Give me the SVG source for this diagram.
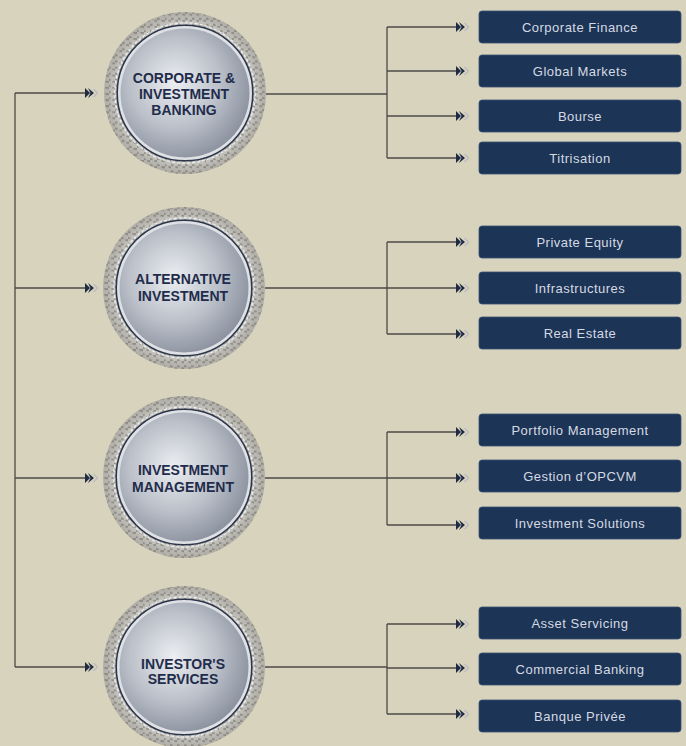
<svg xmlns="http://www.w3.org/2000/svg" width="686" height="746" viewBox="0 0 686 746">
<style>
.bg{fill:#d8d3bc}
.ln{fill:none;stroke:#4b4a48;stroke-width:1.3}
.box{fill:#1c3456;stroke:#3b5273;stroke-width:0.8}
.bt{font-family:"Liberation Sans",Arial,sans-serif;font-size:13px;fill:#d5dae2;text-anchor:middle;letter-spacing:0.5px}
.ct{font-family:"Liberation Sans",Arial,sans-serif;font-size:14px;font-weight:bold;fill:#1f2c4b;text-anchor:middle}
</style>
<defs>
<marker id="chev" viewBox="0 0 13 11" refX="0" refY="5.5" markerWidth="13" markerHeight="11" markerUnits="userSpaceOnUse" orient="auto">
<path d="M8.5,1.5 L12.5,5.5 L8.5,9.5" fill="none" stroke="#b9bcc4" stroke-width="1.3"/>
<path d="M0,0.5 L5,5.5 L0,10.5 Z" fill="#1f2a44"/>
<path d="M3,0.5 L9,5.5 L3,10.5 L5.5,5.5 Z" fill="#1f2a44"/>
</marker>
<pattern id="dimple" patternUnits="userSpaceOnUse" width="7" height="6.1">
<rect width="7" height="6.1" fill="#a5a29a"/>
<circle cx="1.75" cy="1.5" r="2.7" fill="#d7d5cf"/>
<circle cx="5.25" cy="4.55" r="2.7" fill="#d7d5cf"/>
</pattern>
<radialGradient id="silver" cx="0.42" cy="0.42" r="0.62">
<stop offset="0" stop-color="#eceef1"/>
<stop offset="0.55" stop-color="#bcc1ca"/>
<stop offset="1" stop-color="#8a919e"/>
</radialGradient>
<radialGradient id="ringshade" cx="0.5" cy="0.5" r="0.5">
<stop offset="0.82" stop-color="#000" stop-opacity="0"/>
<stop offset="1" stop-color="#5a564e" stop-opacity="0.3"/>
</radialGradient>
<g id="disc">
<circle r="81" fill="url(#dimple)"/>
<circle r="81" fill="url(#ringshade)"/>
<circle r="70.2" fill="none" stroke="#eef0f2" stroke-width="1.2" stroke-dasharray="3 2"/>
<circle r="67.8" fill="#dfe1e5" stroke="#2c374c" stroke-width="1.6"/>
<circle r="64.5" fill="url(#silver)"/>
</g>
</defs>
<rect class="bg" width="686" height="746"/>

<g id="connectors">
<path class="ln" d="M15,93 V667"/>
<path class="ln" d="M15,93 H85" marker-end="url(#chev)"/>
<path class="ln" d="M15,288 H85" marker-end="url(#chev)"/>
<path class="ln" d="M15,478 H85" marker-end="url(#chev)"/>
<path class="ln" d="M15,667 H85" marker-end="url(#chev)"/>

<path class="ln" d="M265,94 H387"/>
<path class="ln" d="M387,27 V158"/>
<path class="ln" d="M387,27 H456" marker-end="url(#chev)"/>
<path class="ln" d="M387,71 H456" marker-end="url(#chev)"/>
<path class="ln" d="M387,116 H456" marker-end="url(#chev)"/>
<path class="ln" d="M387,158 H456" marker-end="url(#chev)"/>

<path class="ln" d="M265,288 H387"/>
<path class="ln" d="M387,242 V334"/>
<path class="ln" d="M387,242 H456" marker-end="url(#chev)"/>
<path class="ln" d="M387,288 H456" marker-end="url(#chev)"/>
<path class="ln" d="M387,334 H456" marker-end="url(#chev)"/>

<path class="ln" d="M265,478 H387"/>
<path class="ln" d="M387,432 V525"/>
<path class="ln" d="M387,432 H456" marker-end="url(#chev)"/>
<path class="ln" d="M387,478 H456" marker-end="url(#chev)"/>
<path class="ln" d="M387,525 H456" marker-end="url(#chev)"/>

<path class="ln" d="M265,667 H387"/>
<path class="ln" d="M387,624 V714"/>
<path class="ln" d="M387,624 H456" marker-end="url(#chev)"/>
<path class="ln" d="M387,668 H456" marker-end="url(#chev)"/>
<path class="ln" d="M387,714 H456" marker-end="url(#chev)"/>
</g>

<g id="node-cib">
<use href="#disc" x="185" y="93"/>
<text class="ct" x="184" y="83">CORPORATE &amp;</text>
<text class="ct" x="184" y="99">INVESTMENT</text>
<text class="ct" x="184" y="115">BANKING</text>
</g>
<g id="node-alt">
<use href="#disc" x="184" y="288"/>
<text class="ct" x="183" y="284">ALTERNATIVE</text>
<text class="ct" x="183" y="301">INVESTMENT</text>
</g>
<g id="node-im">
<use href="#disc" x="184" y="477"/>
<text class="ct" x="183" y="475">INVESTMENT</text>
<text class="ct" x="183" y="492">MANAGEMENT</text>
</g>
<g id="node-is">
<use href="#disc" x="184" y="667"/>
<text class="ct" x="183" y="669">INVESTOR'S</text>
<text class="ct" x="183" y="684">SERVICES</text>
</g>

<g id="box-corporate-finance"><rect class="box" x="479" y="11" width="202" height="32" rx="3"/><text class="bt" x="580" y="31.5">Corporate Finance</text></g>
<g id="box-global-markets"><rect class="box" x="479" y="55" width="202" height="32" rx="3"/><text class="bt" x="580" y="75.5">Global Markets</text></g>
<g id="box-bourse"><rect class="box" x="479" y="100" width="202" height="32" rx="3"/><text class="bt" x="580" y="120.5">Bourse</text></g>
<g id="box-titrisation"><rect class="box" x="479" y="142" width="202" height="32" rx="3"/><text class="bt" x="580" y="162.5">Titrisation</text></g>

<g id="box-private-equity"><rect class="box" x="479" y="226" width="202" height="32" rx="3"/><text class="bt" x="580" y="246.5">Private Equity</text></g>
<g id="box-infrastructures"><rect class="box" x="479" y="272" width="202" height="32" rx="3"/><text class="bt" x="580" y="292.5">Infrastructures</text></g>
<g id="box-real-estate"><rect class="box" x="479" y="317" width="202" height="32" rx="3"/><text class="bt" x="580" y="337.5">Real Estate</text></g>

<g id="box-portfolio-management"><rect class="box" x="479" y="414" width="202" height="32" rx="3"/><text class="bt" x="580" y="434.5">Portfolio Management</text></g>
<g id="box-gestion-opcvm"><rect class="box" x="479" y="460" width="202" height="32" rx="3"/><text class="bt" x="580" y="480.5">Gestion d’OPCVM</text></g>
<g id="box-investment-solutions"><rect class="box" x="479" y="507" width="202" height="32" rx="3"/><text class="bt" x="580" y="527.5">Investment Solutions</text></g>

<g id="box-asset-servicing"><rect class="box" x="479" y="607" width="202" height="32" rx="3"/><text class="bt" x="580" y="627.5">Asset Servicing</text></g>
<g id="box-commercial-banking"><rect class="box" x="479" y="653" width="202" height="32" rx="3"/><text class="bt" x="580" y="673.5">Commercial Banking</text></g>
<g id="box-banque-privee"><rect class="box" x="479" y="700" width="202" height="32" rx="3"/><text class="bt" x="580" y="720.5">Banque Privée</text></g>
</svg>
